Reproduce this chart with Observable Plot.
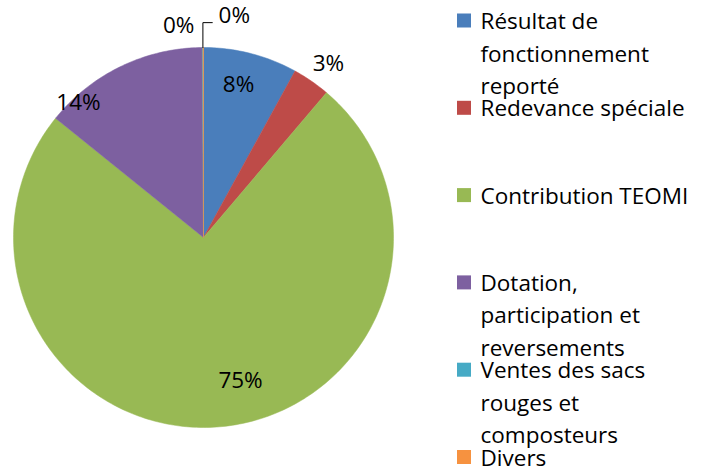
<!DOCTYPE html>
<html>
<head>
<meta charset="utf-8">
<script src="https://cdn.jsdelivr.net/npm/d3@7"></script>
<script src="https://cdn.jsdelivr.net/npm/@observablehq/plot@0.6"></script>
<style>
  html, body { margin: 0; padding: 0; background: #fff; }
  #chart svg { display: block; }
</style>
</head>
<body>
<div id="chart"></div>
<script>
// ---- data ----
const categories = [
  "Résultat de fonctionnement reporté",
  "Redevance spéciale",
  "Contribution TEOMI",
  "Dotation, participation et reversements",
  "Ventes des sacs rouges et composteurs",
  "Divers"
];
const legendLines = [
  ["Résultat de", "fonctionnement", "reporté"],
  ["Redevance spéciale"],
  ["Contribution TEOMI"],
  ["Dotation,", "participation et", "reversements"],
  ["Ventes des sacs", "rouges et", "composteurs"],
  ["Divers"]
];
const shares = [8.0, 3.2, 74.6, 14.1, 0.05, 0.05];
const labels = ["8%", "3%", "75%", "14%", "0%", "0%"];
const colors = ["#4A7EBB", "#BE4B48", "#98B954", "#7D60A0", "#46AAC5", "#F69240"];

// ---- layout (not data) ----
const W = 708, H = 468;
const cx = 203, cy = 237, R = 190;
// label placement: [angle in degrees clockwise from 12 o'clock, distance in px]
const labelPolar = [[12.9, 157], [35.7, 214], [165.5, 148], [317.2, 184], [353.3, 213], [7.9, 224]];
const leaderIndex = 5;
const legendX = 457, legendSq = 14, legendTop = 13.5, legendStep = 87.3, lineStep = 32.5;
const FONT = 22.5;

const pie = d3.pie().sort(null).value(d => d)(shares);
const pt = (a, r) => [cx + r * Math.sin(a), cy - r * Math.cos(a)];

// slice polygons
const slicePts = [];
pie.forEach((p, i) => {
  const a0 = p.startAngle, a1 = p.endAngle;
  const n = Math.max(2, Math.ceil((a1 - a0) / (Math.PI / 180)));
  const c = pt(0, 0);
  slicePts.push({x: c[0], y: c[1], k: categories[i]});
  for (let j = 0; j <= n; j++) {
    const a = a0 + (a1 - a0) * j / n;
    const q = pt(a, R);
    slicePts.push({x: q[0], y: q[1], k: categories[i]});
  }
  slicePts.push({x: c[0], y: c[1], k: categories[i]});
});

const labelData = labels.map((t, i) => {
  const [deg, r] = labelPolar[i];
  const q = pt(deg * Math.PI / 180, r);
  return {x: q[0], y: q[1], t};
});

// leader line for the last small slice
const lp = pie[leaderIndex];
const edge = pt(lp.startAngle, R);
const lt = labelData[leaderIndex];
const leader = [
  {x: edge[0], y: edge[1]},
  {x: edge[0], y: lt.y + 7},
  {x: lt.x - 22, y: lt.y + 7}
];

// legend
const legendRects = categories.map((k, i) => ({
  k, y1: legendTop + legendStep * i, y2: legendTop + legendStep * i + legendSq
}));
const legendText = [];
legendLines.forEach((lines, i) => {
  lines.forEach((s, j) => {
    legendText.push({t: s, y: legendTop + legendStep * i + legendSq + 1 + lineStep * j});
  });
});

const chart = Plot.plot({
  width: W, height: H,
  margin: 0,
  style: {fontFamily: "'Open Sans', sans-serif", background: "#fff"},
  x: {domain: [0, W], range: [0, W], axis: null},
  y: {domain: [0, H], range: [0, H], axis: null},
  color: {domain: categories, range: colors},
  marks: [
    Plot.line(slicePts, {x: "x", y: "y", z: "k", fill: "k", stroke: "k", strokeWidth: 0.5, curve: "linear"}),
    Plot.line(leader, {x: "x", y: "y", stroke: "#000", strokeWidth: 1}),
    Plot.text(labelData, {x: "x", y: "y", text: "t", fontSize: FONT, fill: "#000", textAnchor: "middle", lineAnchor: "middle"}),
    Plot.rect(legendRects, {x1: legendX, x2: legendX + legendSq, y1: "y1", y2: "y2", fill: "k"}),
    Plot.text(legendText, {x: 480, y: d => d.y - FONT * 0.32, text: "t", fontSize: FONT, fill: "#000", textAnchor: "start", lineAnchor: "middle"})
  ]
});
document.getElementById("chart").appendChild(chart);
</script>
</body>
</html>
